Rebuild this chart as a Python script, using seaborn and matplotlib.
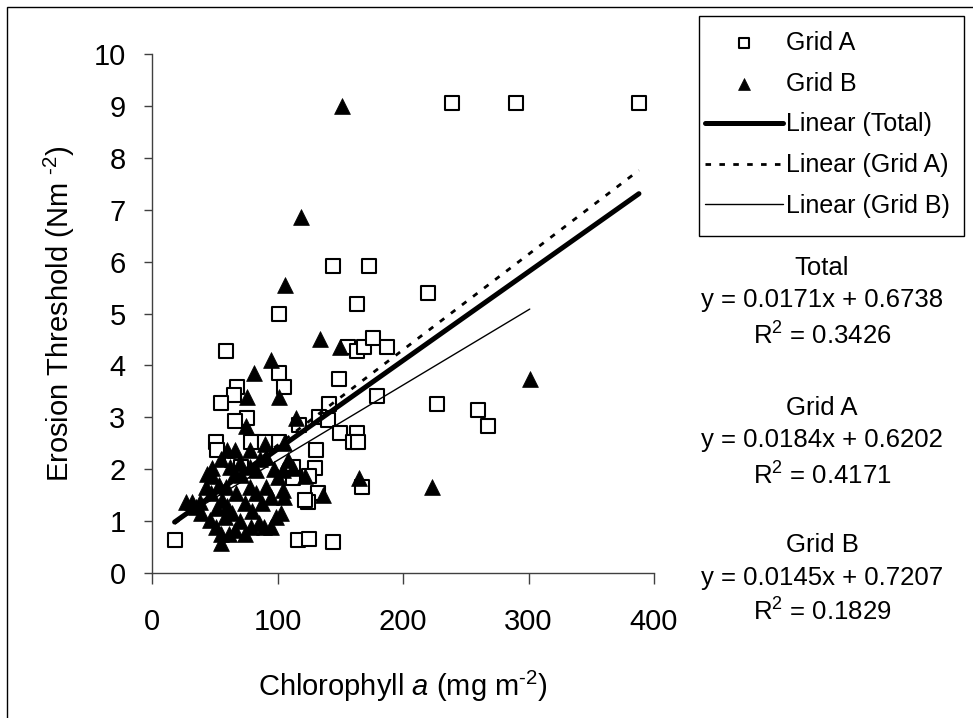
import numpy as np
import pandas as pd
import seaborn as sns
import matplotlib
matplotlib.use("Agg")
import matplotlib.pyplot as plt
from matplotlib.patches import Rectangle

# ---------------- data ----------------
grid_a_x = [18, 101, 59, 101, 105, 68, 65, 55, 76, 51, 52, 81, 101, 116, 112, 112,
            144, 173, 163, 220, 156, 163, 169, 176, 187, 149, 179, 141, 133, 140,
            150, 163, 160, 164, 131, 117, 130, 125, 167, 132, 124, 125, 144,
            239, 290, 388, 227, 260, 268, 79, 90, 64, 71, 66, 122]
grid_a_y = [0.63, 5.0, 4.28, 3.85, 3.58, 3.58, 3.43, 3.27, 2.99, 2.52, 2.37, 2.52, 2.52, 0.63, 2.05, 1.84,
            5.92, 5.92, 5.18, 5.39, 4.36, 4.28, 4.36, 4.52, 4.36, 3.73, 3.42, 3.26, 3.01, 2.95,
            2.69, 2.69, 2.53, 2.53, 2.37, 2.85, 2.02, 1.86, 1.66, 1.54, 1.36, 0.65, 0.60,
            9.05, 9.05, 9.05, 3.26, 3.14, 2.83, 2.53, 2.53, 2.18, 2.05, 2.92, 1.41]

grid_b_x = [151, 119, 106, 134, 150, 301, 223, 95, 81, 76, 101, 75, 115, 105, 90, 165,
            136, 112, 122, 104, 105, 103,
            60, 66, 78, 55, 48, 48, 70, 78, 83, 66, 71, 59, 47, 27, 32, 39, 46, 51,
            55, 61, 66, 74, 79, 85, 89, 95, 99, 88, 83, 74, 64, 58, 56, 55, 91, 95,
            67, 78, 91, 108, 104, 43, 35, 38, 52, 60, 70, 80, 86, 97, 100, 62, 44, 53]
grid_b_y = [9.0, 6.85, 5.55, 4.5, 4.35, 3.73, 1.66, 4.1, 3.85, 3.4, 3.4, 2.83, 2.98, 2.5, 2.49, 1.84,
            1.5, 2.02, 1.86, 1.6, 1.47, 1.15,
            2.37, 2.37, 2.37, 2.19, 2.02, 1.86, 2.11, 2.05, 1.98, 1.92, 1.89, 1.66, 1.54, 1.37, 1.37, 1.15, 1.02, 0.89,
            0.76, 0.76, 0.83, 0.76, 0.89, 0.96, 0.89, 0.89, 1.08, 1.34, 1.54, 1.34, 1.15, 1.08, 1.41, 0.57, 1.66, 1.47,
            1.54, 1.66, 2.24, 2.18, 1.98, 1.66, 1.28, 1.37, 1.25, 1.3, 1.0, 1.2, 2.2, 2.0, 1.85, 2.05, 1.9, 1.7]

# trendline coefficients (slope, intercept) as printed on the chart
fit_names = ["Total", "Grid A", "Grid B"]
fit_slopes = [0.0171, 0.0184, 0.0145]
fit_intercepts = [0.6738, 0.6202, 0.7207]
fit_r2 = ["0.3426", "0.4171", "0.1829"]

x_ticks = [0, 100, 200, 300, 400]
y_ticks = list(range(0, 11))

# ---------------- style ----------------
sns.set_theme(style="white")
plt.rcParams["font.family"] = ["Liberation Sans", "DejaVu Sans"]
plt.rcParams["mathtext.fontset"] = "custom"
plt.rcParams["mathtext.rm"] = "Liberation Sans"
plt.rcParams["mathtext.it"] = "Liberation Sans:italic"
plt.rcParams["text.color"] = "black"
plt.rcParams["axes.labelcolor"] = "black"
plt.rcParams["xtick.color"] = "black"
plt.rcParams["ytick.color"] = "black"

W, H = 973, 718
fig = plt.figure(figsize=(W / 100, H / 100), dpi=100)
fig.patch.set_facecolor("white")
ax = fig.add_axes([152 / W, 1 - 573 / H, 502 / W, 519 / H])

dfa = pd.DataFrame({"x": grid_a_x, "y": grid_a_y})
dfb = pd.DataFrame({"x": grid_b_x, "y": grid_b_y})

sns.scatterplot(data=dfa, x="x", y="y", marker="s", s=95, facecolor="white",
                edgecolor="black", linewidth=1.5, label="Grid A", ax=ax, zorder=3)
sns.scatterplot(data=dfb, x="x", y="y", marker="^", s=130, color="black",
                edgecolor="black", linewidth=0.5, label="Grid B", ax=ax, zorder=3)

all_x = grid_a_x + grid_b_x
ranges = {"Total": (min(all_x), max(all_x)),
          "Grid A": (min(grid_a_x), max(grid_a_x)),
          "Grid B": (min(grid_b_x), max(grid_b_x))}
styles = {"Total": dict(linewidth=3.6, linestyle="-"),
          "Grid A": dict(linewidth=2.0, linestyle=(0, (2, 3))),
          "Grid B": dict(linewidth=1.0, linestyle="-")}
labels = {"Total": "Linear (Total)", "Grid A": "Linear (Grid A)", "Grid B": "Linear (Grid B)"}
for name, m, c in zip(fit_names, fit_slopes, fit_intercepts):
    x0, x1 = ranges[name]
    lx = np.array([x0, x1], dtype=float)
    sns.lineplot(x=lx, y=m * lx + c, color="black", label=labels[name], ax=ax,
                 zorder=4, **styles[name])

ax.set_xlim(0, 400)
ax.set_ylim(0, 10)
ax.set_xticks(x_ticks)
ax.set_yticks(y_ticks)
ax.tick_params(axis="x", direction="out", length=8, width=1, color="#404040",
               pad=17, labelsize=21, labelcolor="black", bottom=True)
ax.tick_params(axis="y", direction="out", length=6, width=1, color="#404040",
               pad=13, labelsize=21, labelcolor="black", left=True)
for s in ["top", "right"]:
    ax.spines[s].set_visible(False)
for s in ["left", "bottom"]:
    ax.spines[s].set_color("#404040")
    ax.spines[s].set_linewidth(1)

ax.set_xlabel(r"Chlorophyll $\mathit{a}$ (mg m$^{\text{-}2}$)", fontsize=21, color="black")
ax.set_ylabel(r"Erosion Threshold (Nm $^{\text{-}2}$)", fontsize=21, color="black")
ax.xaxis.set_label_coords(0.5, -0.185)
ax.yaxis.set_label_coords(-0.15, 0.5)

leg = ax.legend(loc="upper left", bbox_to_anchor=(705 / W, 1 - 31 / H),
                bbox_transform=fig.transFigure, fontsize=18, frameon=False,
                handlelength=3.1, handletextpad=0.12, labelspacing=0.67,
                borderpad=0, borderaxespad=0, markerscale=0.75, labelcolor="black")

# legend frame
fig.patches.append(Rectangle((699 / W, 1 - 236 / H), 265 / W, 220 / H,
                             transform=fig.transFigure, fill=False,
                             edgecolor="black", linewidth=1.0))

# equation panel
ypos = [[268, 300, 336], [408, 440, 476], [545, 578, 612]]
for (name, m, c, r2), yy in zip(zip(fit_names, fit_slopes, fit_intercepts, fit_r2), ypos):
    fig.text(822 / W, 1 - yy[0] / H, name, ha="center", va="center", fontsize=18.5,
             color="black")
    fig.text(822 / W, 1 - yy[1] / H, f"y = {m:.4f}x + {c:.4f}", ha="center",
             va="center", fontsize=18.5, color="black")
    fig.text(822 / W, 1 - yy[2] / H, r"R$^{2}$ = " + r2, ha="center",
             va="center", fontsize=18.5, color="black")

# outer chart border (top and left visible)
fig.patches.append(Rectangle((7 / W, -0.05), 1.2, 1.05 - 7 / H, transform=fig.transFigure,
                             fill=False, edgecolor="black", linewidth=1.0))

fig.savefig("out.png", dpi=100)
